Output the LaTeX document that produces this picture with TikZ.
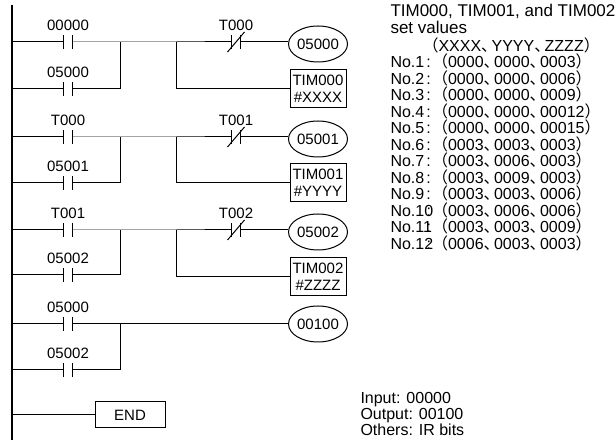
\documentclass[tikz,border=0pt]{standalone}
\usepackage{fontspec}
\setmainfont{Liberation Sans}
\newfontfamily\cjk{Noto Sans CJK SC}
\usetikzlibrary{shapes.geometric}
\newcommand{\lpar}{{\cjk\kern-0.3em（}}
\newcommand{\rpar}{{\cjk ）}}
\newcommand{\dcm}{{\cjk 、}\kern-0.35em}
\newcommand{\nolab}[1]{\makebox[2.25em][l]{#1}}
\tikzset{
  contact/.style={minimum width=4.5pt,minimum height=7pt,inner sep=0pt,outer sep=0pt},
  coil/.style={ellipse,draw,minimum width=28pt,minimum height=18pt,inner sep=0pt},
  tim/.style={draw,minimum width=28pt,minimum height=19pt,inner sep=1pt,align=center,font=\fontsize{7.5}{8.5}\selectfont},
  wire/.style={line width=0.5pt}
}
\begin{document}
\begin{tikzpicture}[x=0.5pt,y=-0.5pt,font=\fontsize{7.5}{8.25}\selectfont,line width=0.5pt]
  \useasboundingbox (0,0) rectangle (615,442);
  % Barra izquierda
  \draw[line width=1pt] (12,5) -- (12,440);

  % Contactos
  \node[contact,label={[inner sep=2pt]above:00000}] (c1) at (68,42) {};
  \node[contact,label={[inner sep=2pt]above:05000}] (c2) at (68,89) {};
  \node[contact,label={[inner sep=2pt]above:T000}] (n1) at (236,42) {};
  \node[contact,label={[inner sep=2pt]above:T000}] (c3) at (68,137) {};
  \node[contact,label={[inner sep=2pt]above:05001}] (c4) at (68,183) {};
  \node[contact,label={[inner sep=2pt]above:T001}] (n2) at (236,137) {};
  \node[contact,label={[inner sep=2pt]above:T001}] (c5) at (68,230) {};
  \node[contact,label={[inner sep=2pt]above:05002}] (c6) at (68,275) {};
  \node[contact,label={[inner sep=2pt]above:T002}] (n3) at (236,230) {};
  \node[contact,label={[inner sep=2pt]above:05000}] (c7) at (68,324) {};
  \node[contact,label={[inner sep=2pt]above:05002}] (c8) at (68,370) {};
  \foreach \c in {c1,c2,n1,c3,c4,n2,c5,c6,n3,c7,c8}
    \draw (\c.north west) -- (\c.south west) (\c.north east) -- (\c.south east);
  \foreach \c in {n1,n2,n3}
    \draw ([shift={(-4,3)}]\c.south west) -- ([shift={(4,-3)}]\c.north east);

  % Bobinas y temporizadores
  \node[coil] (o1) at (318,44) {05000};
  \node[tim] (t1) at (318,89) {TIM000\\\#XXXX};
  \node[coil] (o2) at (318,139) {05001};
  \node[tim] (t2) at (318,183) {TIM001\\\#YYYY};
  \node[coil] (o3) at (318,232) {05002};
  \node[tim] (t3) at (318,277) {TIM002\\\#ZZZZ};
  \node[coil] (o4) at (318,324) {00100};
  \node[draw,minimum width=35pt,minimum height=13pt] (e) at (130,415) {END};

  % Cableado
  \foreach \a/\b/\n/\t/\y/\yb in {c1/c2/n1/t1/42/89,c3/c4/n2/t2/137/183,c5/c6/n3/t3/230/275}{
    \draw (12,\y) -- (\a.west) (\a.east) -- (176,\y) -- (\n.west);
    \draw (12,\yb) -- (\b.west) (\b.east) -- (120,\yb) -- (120,\y);
    \draw (176,\y) |- (\t.west);
  }
  \draw (n1.east) -- (o1.west|-n1) (n2.east) -- (o2.west|-n2) (n3.east) -- (o3.west|-n3);
  \draw (12,324) -- (c7.west) (c7.east) -- (o4.west);
  \draw (12,370) -- (c8.west) (c8.east) -- (120,370) -- (120,324);
  \draw (12,415) -- (e.west);

  % Texto derecho
  \node[anchor=north west,align=left,inner sep=0pt,font=\fontsize{8.5}{8.5}\selectfont] (sv) at (390,4)
    {TIM000, TIM001, and TIM002\\set values};
  \node[anchor=north west,align=left,inner sep=0pt,font=\fontsize{8}{8.25}\selectfont] (tb) at (390,37) {%
    \hspace*{2.3em}\lpar XXXX\dcm YYYY\dcm ZZZZ\rpar\\
    \nolab{No.1}: \lpar 0000\dcm 0000\dcm 0003\rpar\\
    \nolab{No.2}: \lpar 0000\dcm 0000\dcm 0006\rpar\\
    \nolab{No.3}: \lpar 0000\dcm 0000\dcm 0009\rpar\\
    \nolab{No.4}: \lpar 0000\dcm 0000\dcm 00012\rpar\\
    \nolab{No.5}: \lpar 0000\dcm 0000\dcm 00015\rpar\\
    \nolab{No.6}: \lpar 0003\dcm 0003\dcm 0003\rpar\\
    \nolab{No.7}: \lpar 0003\dcm 0006\dcm 0003\rpar\\
    \nolab{No.8}: \lpar 0003\dcm 0009\dcm 0003\rpar\\
    \nolab{No.9}: \lpar 0003\dcm 0003\dcm 0006\rpar\\
    \nolab{No.10}: \lpar 0003\dcm 0006\dcm 0006\rpar\\
    \nolab{No.11}: \lpar 0003\dcm 0003\dcm 0009\rpar\\
    \nolab{No.12}: \lpar 0006\dcm 0003\dcm 0003\rpar};
  \node[anchor=north west,align=left,inner sep=0pt,font=\fontsize{8}{8}\selectfont] (io) at (360,392)
    {Input: 00000\\Output: 00100\\Others: IR bits};
\end{tikzpicture}
\end{document}
